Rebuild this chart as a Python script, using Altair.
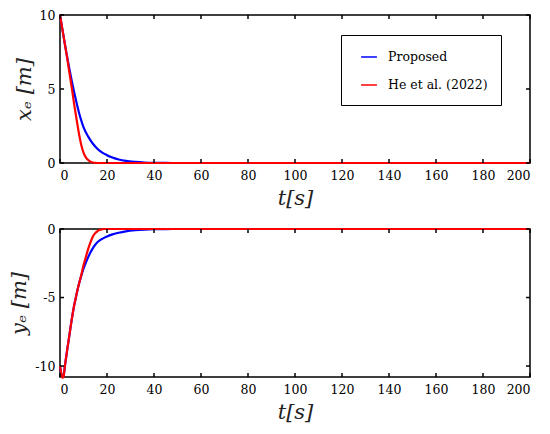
import altair as alt
import pandas as pd

# ---------------- data ----------------
series_names = ["Proposed", "He et al. (2022)"]

# x_e panel
xe_prop_t = [0, 1, 2, 3, 4, 5, 6, 7, 8, 9, 10, 12, 14, 16, 18, 20, 22, 25, 28, 32, 36, 40, 45, 50, 200]
xe_prop_v = [10, 9.05, 8.1, 7.2, 6.35, 5.55, 4.8, 4.1, 3.45, 2.9, 2.42, 1.78, 1.3, 0.95, 0.7, 0.53, 0.39, 0.24, 0.14, 0.07, 0.03, 0.012, 0.004, 0, 0]
xe_he_t = [0, 1, 2, 3, 4, 5, 6, 7, 8, 9, 10, 11, 12, 13, 14, 15, 16, 200]
xe_he_v = [10, 9.05, 8.1, 7.15, 6.1, 5.1, 4.0, 3.0, 2.05, 1.25, 0.7, 0.38, 0.2, 0.09, 0.03, 0.005, 0, 0]

# y_e panel
ye_prop_t = [0, 0.5, 1, 1.5, 2, 3, 4, 5, 6, 7, 8, 9, 10, 11, 12, 13, 14, 15, 16, 17, 18, 19, 20, 22, 25, 28, 32, 36, 40, 45, 50, 200]
ye_prop_v = [-10.0, -10.5, -10.8, -10.75, -10.1, -8.9, -7.75, -6.6, -5.6, -4.8, -4.05, -3.45, -2.9, -2.45, -2.05, -1.7, -1.4, -1.15, -0.95, -0.82, -0.72, -0.63, -0.55, -0.41, -0.27, -0.17, -0.09, -0.045, -0.02, -0.007, 0, 0]
ye_he_t = [0, 0.5, 1, 1.5, 2, 3, 4, 5, 6, 7, 8, 9, 10, 11, 12, 13, 14, 15, 16, 17, 18, 19, 200]
ye_he_v = [-10.0, -10.5, -10.85, -10.8, -10.1, -8.9, -7.75, -6.6, -5.6, -4.8, -4.05, -3.4, -2.65, -2.05, -1.45, -0.95, -0.55, -0.3, -0.15, -0.06, -0.02, 0, 0]

x_ticks = [0, 20, 40, 60, 80, 100, 120, 140, 160, 180, 200]
xe_ticks = [0, 5, 10]
ye_ticks = [-10, -5, 0]

# ---------------- build tables ----------------
def long(t1, v1, t2, v2):
    a = pd.DataFrame({"t": t1, "v": v1, "s": series_names[0]})
    b = pd.DataFrame({"t": t2, "v": v2, "s": series_names[1]})
    return pd.concat([a, b], ignore_index=True)

xe_df = long(xe_prop_t, xe_prop_v, xe_he_t, xe_he_v)
ye_df = long(ye_prop_t, ye_prop_v, ye_he_t, ye_he_v)

W, H = 470, 148
FONT = "DejaVu Serif"
TL = 4

color_scale = alt.Scale(domain=series_names, range=["#0000FF", "#FF0000"])
x_scale = alt.Scale(domain=[0, 200], nice=False, zero=False)

axis_style = dict(domain=False, ticks=False, grid=False,
                  labelFont=FONT, labelFontSize=12.5, labelColor="black",
                  titleFont=FONT, titleFontSize=21, titleFontWeight="normal",
                  titleFontStyle="italic", titleColor="#222")


def panel(df, ydomain, yticks, ytitle, legend):
    y_scale = alt.Scale(domain=ydomain, nice=False, zero=False)
    lines = alt.Chart(df).mark_line(strokeWidth=2.2, interpolate="monotone").encode(
        x=alt.X("t:Q", scale=x_scale,
                axis=alt.Axis(values=x_ticks, title="t[s]", labelPadding=6, titlePadding=6,
                              **axis_style)),
        y=alt.Y("v:Q", scale=y_scale,
                axis=alt.Axis(values=yticks, title=ytitle, labelPadding=5, titlePadding=5,
                              labelExpr="'' + datum.value", **axis_style)),
        color=alt.Color("s:N", scale=color_scale, sort=series_names, legend=legend),
    )
    xt = pd.DataFrame({"t": x_ticks})
    yt = pd.DataFrame({"v": yticks})
    tick_bottom = alt.Chart(xt).mark_rule(color="black", strokeWidth=1.5).encode(
        x=alt.X("t:Q", scale=x_scale), y=alt.value(H), y2=alt.value(H - TL))
    tick_top = alt.Chart(xt).mark_rule(color="black", strokeWidth=1.5).encode(
        x=alt.X("t:Q", scale=x_scale), y=alt.value(0), y2=alt.value(TL))
    tick_left = alt.Chart(yt).mark_rule(color="black", strokeWidth=1.5).encode(
        y=alt.Y("v:Q", scale=y_scale), x=alt.value(0), x2=alt.value(TL))
    tick_right = alt.Chart(yt).mark_rule(color="black", strokeWidth=1.5).encode(
        y=alt.Y("v:Q", scale=y_scale), x=alt.value(W), x2=alt.value(W - TL))
    return alt.layer(lines, tick_bottom, tick_top, tick_left, tick_right).properties(width=W, height=H)


legend_top = alt.Legend(
    title=None, orient="none", legendX=281, legendY=20,
    strokeColor="black", fillColor="white", padding=13, rowPadding=12,
    symbolType="stroke", symbolSize=250, symbolStrokeWidth=1.5, symbolOffset=6,
    labelFont=FONT, labelFontSize=12.5, labelColor="black", labelOffset=10,
)

top = panel(xe_df, [0, 10], xe_ticks, "xₑ [m]", legend_top)
bottom = panel(ye_df, [-10.8, 0], ye_ticks, "yₑ [m]", None)

chart = alt.vconcat(top, bottom, spacing=12).resolve_legend(color="independent").properties(
    padding={"left": 0, "top": 0, "right": 5, "bottom": 2}
).configure_view(stroke="black", strokeWidth=1.5)

chart.save("out.html", embed_options={"renderer": "svg", "actions": False})
